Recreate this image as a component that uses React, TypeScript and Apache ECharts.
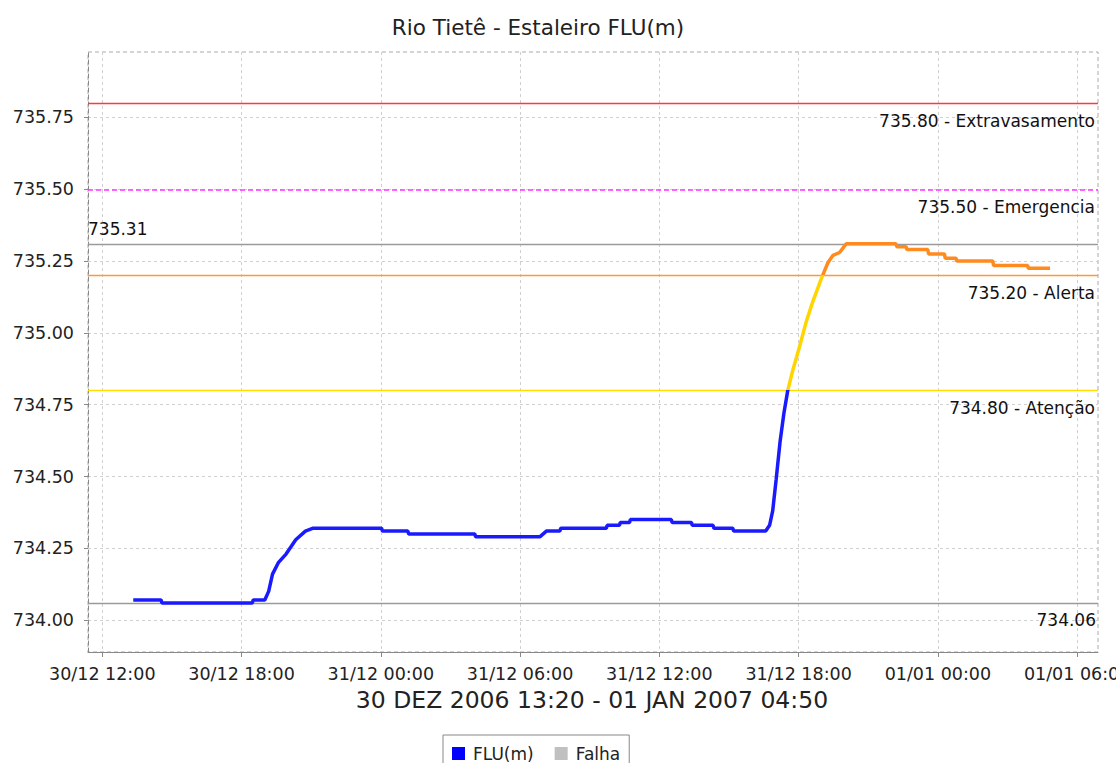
import React, { useEffect, useRef } from 'react';
import * as echarts from 'echarts';

const chartTitle = 'Rio Tietê - Estaleiro FLU(m)';
const periodLabel = '30 DEZ 2006 13:20 - 01 JAN 2007 04:50';
const seriesNames = ['FLU(m)', 'Falha'];

const times = [
  '2006-12-30 13:20', '2006-12-30 14:32', '2006-12-30 14:34', '2006-12-30 18:28', '2006-12-30 18:30',
  '2006-12-30 19:00', '2006-12-30 19:10', '2006-12-30 19:20', '2006-12-30 19:35', '2006-12-30 19:55',
  '2006-12-30 20:20', '2006-12-30 20:45', '2006-12-30 21:05', '2006-12-31 00:02', '2006-12-31 00:04',
  '2006-12-31 01:10', '2006-12-31 01:12', '2006-12-31 04:03', '2006-12-31 04:05', '2006-12-31 06:51',
  '2006-12-31 07:08', '2006-12-31 07:43', '2006-12-31 07:45', '2006-12-31 09:43', '2006-12-31 09:45',
  '2006-12-31 10:17', '2006-12-31 10:19', '2006-12-31 10:43', '2006-12-31 10:45', '2006-12-31 12:31',
  '2006-12-31 12:33', '2006-12-31 13:23', '2006-12-31 13:25', '2006-12-31 14:19', '2006-12-31 14:21',
  '2006-12-31 15:10', '2006-12-31 15:12', '2006-12-31 16:35', '2006-12-31 16:45', '2006-12-31 16:53',
  '2006-12-31 17:02', '2006-12-31 17:12', '2006-12-31 17:22', '2006-12-31 17:32', '2006-12-31 17:45',
  '2006-12-31 18:02', '2006-12-31 18:20', '2006-12-31 18:37', '2006-12-31 18:59', '2006-12-31 19:16',
  '2006-12-31 19:29', '2006-12-31 19:46', '2006-12-31 20:03', '2006-12-31 22:12', '2006-12-31 22:14',
  '2006-12-31 22:38', '2006-12-31 22:40', '2006-12-31 23:34', '2006-12-31 23:36', '2007-01-01 00:17',
  '2007-01-01 00:19', '2007-01-01 00:47', '2007-01-01 00:49', '2007-01-01 02:22', '2007-01-01 02:24',
  '2007-01-01 03:52', '2007-01-01 03:54', '2007-01-01 04:50',
];
const levels = [
  734.07, 734.07, 734.06, 734.06, 734.07,
  734.07, 734.10, 734.16, 734.20, 734.23,
  734.28, 734.31, 734.32, 734.32, 734.31,
  734.31, 734.30, 734.30, 734.29, 734.29,
  734.31, 734.31, 734.32, 734.32, 734.33,
  734.33, 734.34, 734.34, 734.35, 734.35,
  734.34, 734.34, 734.33, 734.33, 734.32,
  734.32, 734.31, 734.31, 734.33, 734.38,
  734.49, 734.62, 734.72, 734.80, 734.87,
  734.95, 735.04, 735.11, 735.19, 735.245,
  735.27, 735.28, 735.31, 735.31, 735.30,
  735.30, 735.29, 735.29, 735.275, 735.275,
  735.26, 735.26, 735.25, 735.25, 735.235,
  735.235, 735.225, 735.225,
];

const xTickTimes = [
  '2006-12-30 12:00', '2006-12-30 18:00', '2006-12-31 00:00', '2006-12-31 06:00',
  '2006-12-31 12:00', '2006-12-31 18:00', '2007-01-01 00:00', '2007-01-01 06:00',
];
const xRange = ['2006-12-30 11:23', '2007-01-01 06:54'];
const yTicks = [734.0, 734.25, 734.5, 734.75, 735.0, 735.25, 735.5, 735.75];
const yRange = [733.889, 735.978];

const thresholdValues = [735.8, 735.5, 735.2, 734.8];
const thresholdNames = ['Extravasamento', 'Emergencia', 'Alerta', 'Atenção'];
const maxLevel = 735.31;
const minLevel = 734.06;

const FONT = 'DejaVu Sans';

function parseTime(s: string): number {
  const [d, t] = s.split(' ');
  const [Y, M, D] = d.split('-').map(Number);
  const [h, m] = t.split(':').map(Number);
  return new Date(Y, M - 1, D, h, m).getTime();
}
const pad = (n: number) => (n < 10 ? '0' + n : '' + n);

export default function App() {
  const ref = useRef<HTMLDivElement>(null);
  useEffect(() => {
    document.body.style.margin = '0';
    if (!ref.current) return;
    const chart = echarts.init(ref.current, null, { renderer: 'svg' });
    const data = times.map((t, i) => [parseTime(t), levels[i]]);
    const xTicks = xTickTimes.map(parseTime);
    const thrColors = ['#ff3a3a', '#ff33ff', '#ff9933', '#ffdd00'];
    const thrTypes: any[] = ['solid', [5, 3], 'solid', 'solid'];
    const markData: any[] = thresholdValues.map((v, i) => ({
      yAxis: v,
      lineStyle: { color: thrColors[i], type: thrTypes[i], width: i === 1 ? 1.6 : 1.3 },
      label: { formatter: v.toFixed(2) + ' - ' + thresholdNames[i], position: 'insideEndBottom', distance: [3, 9] },
    }));
    markData.push({
      yAxis: maxLevel,
      lineStyle: { color: '#9a9a9a', type: 'solid', width: 1.3 },
      label: { formatter: maxLevel.toFixed(2), position: 'insideStartTop', distance: [0, 6] },
    });
    markData.push({
      yAxis: minLevel,
      lineStyle: { color: '#9a9a9a', type: 'solid', width: 1.3 },
      label: { formatter: minLevel.toFixed(2), position: 'insideEndBottom', distance: [2, 9] },
    });

    const option: any = {
      animation: false,
      backgroundColor: '#ffffff',
      grid: {
        left: 88, right: 18, top: 52, bottom: 111, outerBoundsMode: 'none', containLabel: false,
        show: true, borderColor: '#aaaaaa', borderWidth: 1, borderType: [4, 3],
      },
      graphic: [
        {
          type: 'text',
          style: { text: chartTitle, x: 538, y: 27, align: 'center', verticalAlign: 'middle', fontFamily: FONT, fontSize: 21.5, fill: '#222' },
        },
        {
          type: 'text',
          style: { text: periodLabel, x: 592, y: 700, align: 'center', verticalAlign: 'middle', fontFamily: FONT, fontSize: 23.5, fill: '#222' },
        },
      ],
      legend: {
        left: 443, top: 735,
        borderColor: '#888', borderWidth: 1, padding: [10, 9, 10, 9],
        icon: 'rect', itemWidth: 13, itemHeight: 13, itemGap: 21,
        textStyle: { fontFamily: FONT, fontSize: 17, color: '#222', padding: [0, 0, 0, 3] },
        data: [
          { name: seriesNames[0], itemStyle: { color: '#0000ff' } },
          { name: seriesNames[1], itemStyle: { color: '#c0c0c0' } },
        ],
      },
      visualMap: {
        show: false, type: 'piecewise', seriesIndex: 0, dimension: 1,
        pieces: [
          { lt: thresholdValues[3], color: '#1a1aff' },
          { gte: thresholdValues[3], lt: thresholdValues[2], color: '#ffd500' },
          { gte: thresholdValues[2], color: '#ff8a1e' },
        ],
      },
      xAxis: {
        type: 'value',
        min: parseTime(xRange[0]), max: parseTime(xRange[1]),
        axisLine: { show: true, lineStyle: { color: '#888' } },
        axisTick: { show: true, customValues: xTicks, length: 5, lineStyle: { color: '#888' } },
        axisLabel: {
          customValues: xTicks, margin: 13,
          fontFamily: FONT, fontSize: 17.5, color: '#222', hideOverlap: false,
          formatter: (v: number) => {
            const d = new Date(v);
            return pad(d.getDate()) + '/' + pad(d.getMonth() + 1) + ' ' + pad(d.getHours()) + ':' + pad(d.getMinutes());
          },
        },
        splitLine: { show: true, lineStyle: { color: '#d0d0d0', type: [3, 3] } },
      },
      yAxis: {
        type: 'value', min: yRange[0], max: yRange[1],
        axisLine: { show: true, lineStyle: { color: '#888', type: [4, 3] } },
        axisTick: { show: true, customValues: yTicks, length: 4, lineStyle: { color: '#888' } },
        axisLabel: {
          customValues: yTicks, margin: 14,
          fontFamily: FONT, fontSize: 17.5, color: '#222',
          formatter: (v: number) => v.toFixed(2),
        },
        splitLine: { show: true, lineStyle: { color: '#d0d0d0', type: [3, 3] } },
      },
      series: [
        {
          name: seriesNames[0], type: 'line', data, showSymbol: false,
          lineStyle: { width: 3.5 }, z: 5,
        },
        {
          name: seriesNames[1], type: 'line', data: [], itemStyle: { color: '#c0c0c0' },
          markLine: {
            symbol: 'none', silent: true, animation: false,
            label: { color: '#111', fontFamily: FONT, fontSize: 17 },
            data: markData,
          },
        },
      ],
    };
    chart.setOption(option);
    return () => chart.dispose();
  }, []);
  return <div ref={ref} style={{ width: 1116, height: 763 }} />;
}
